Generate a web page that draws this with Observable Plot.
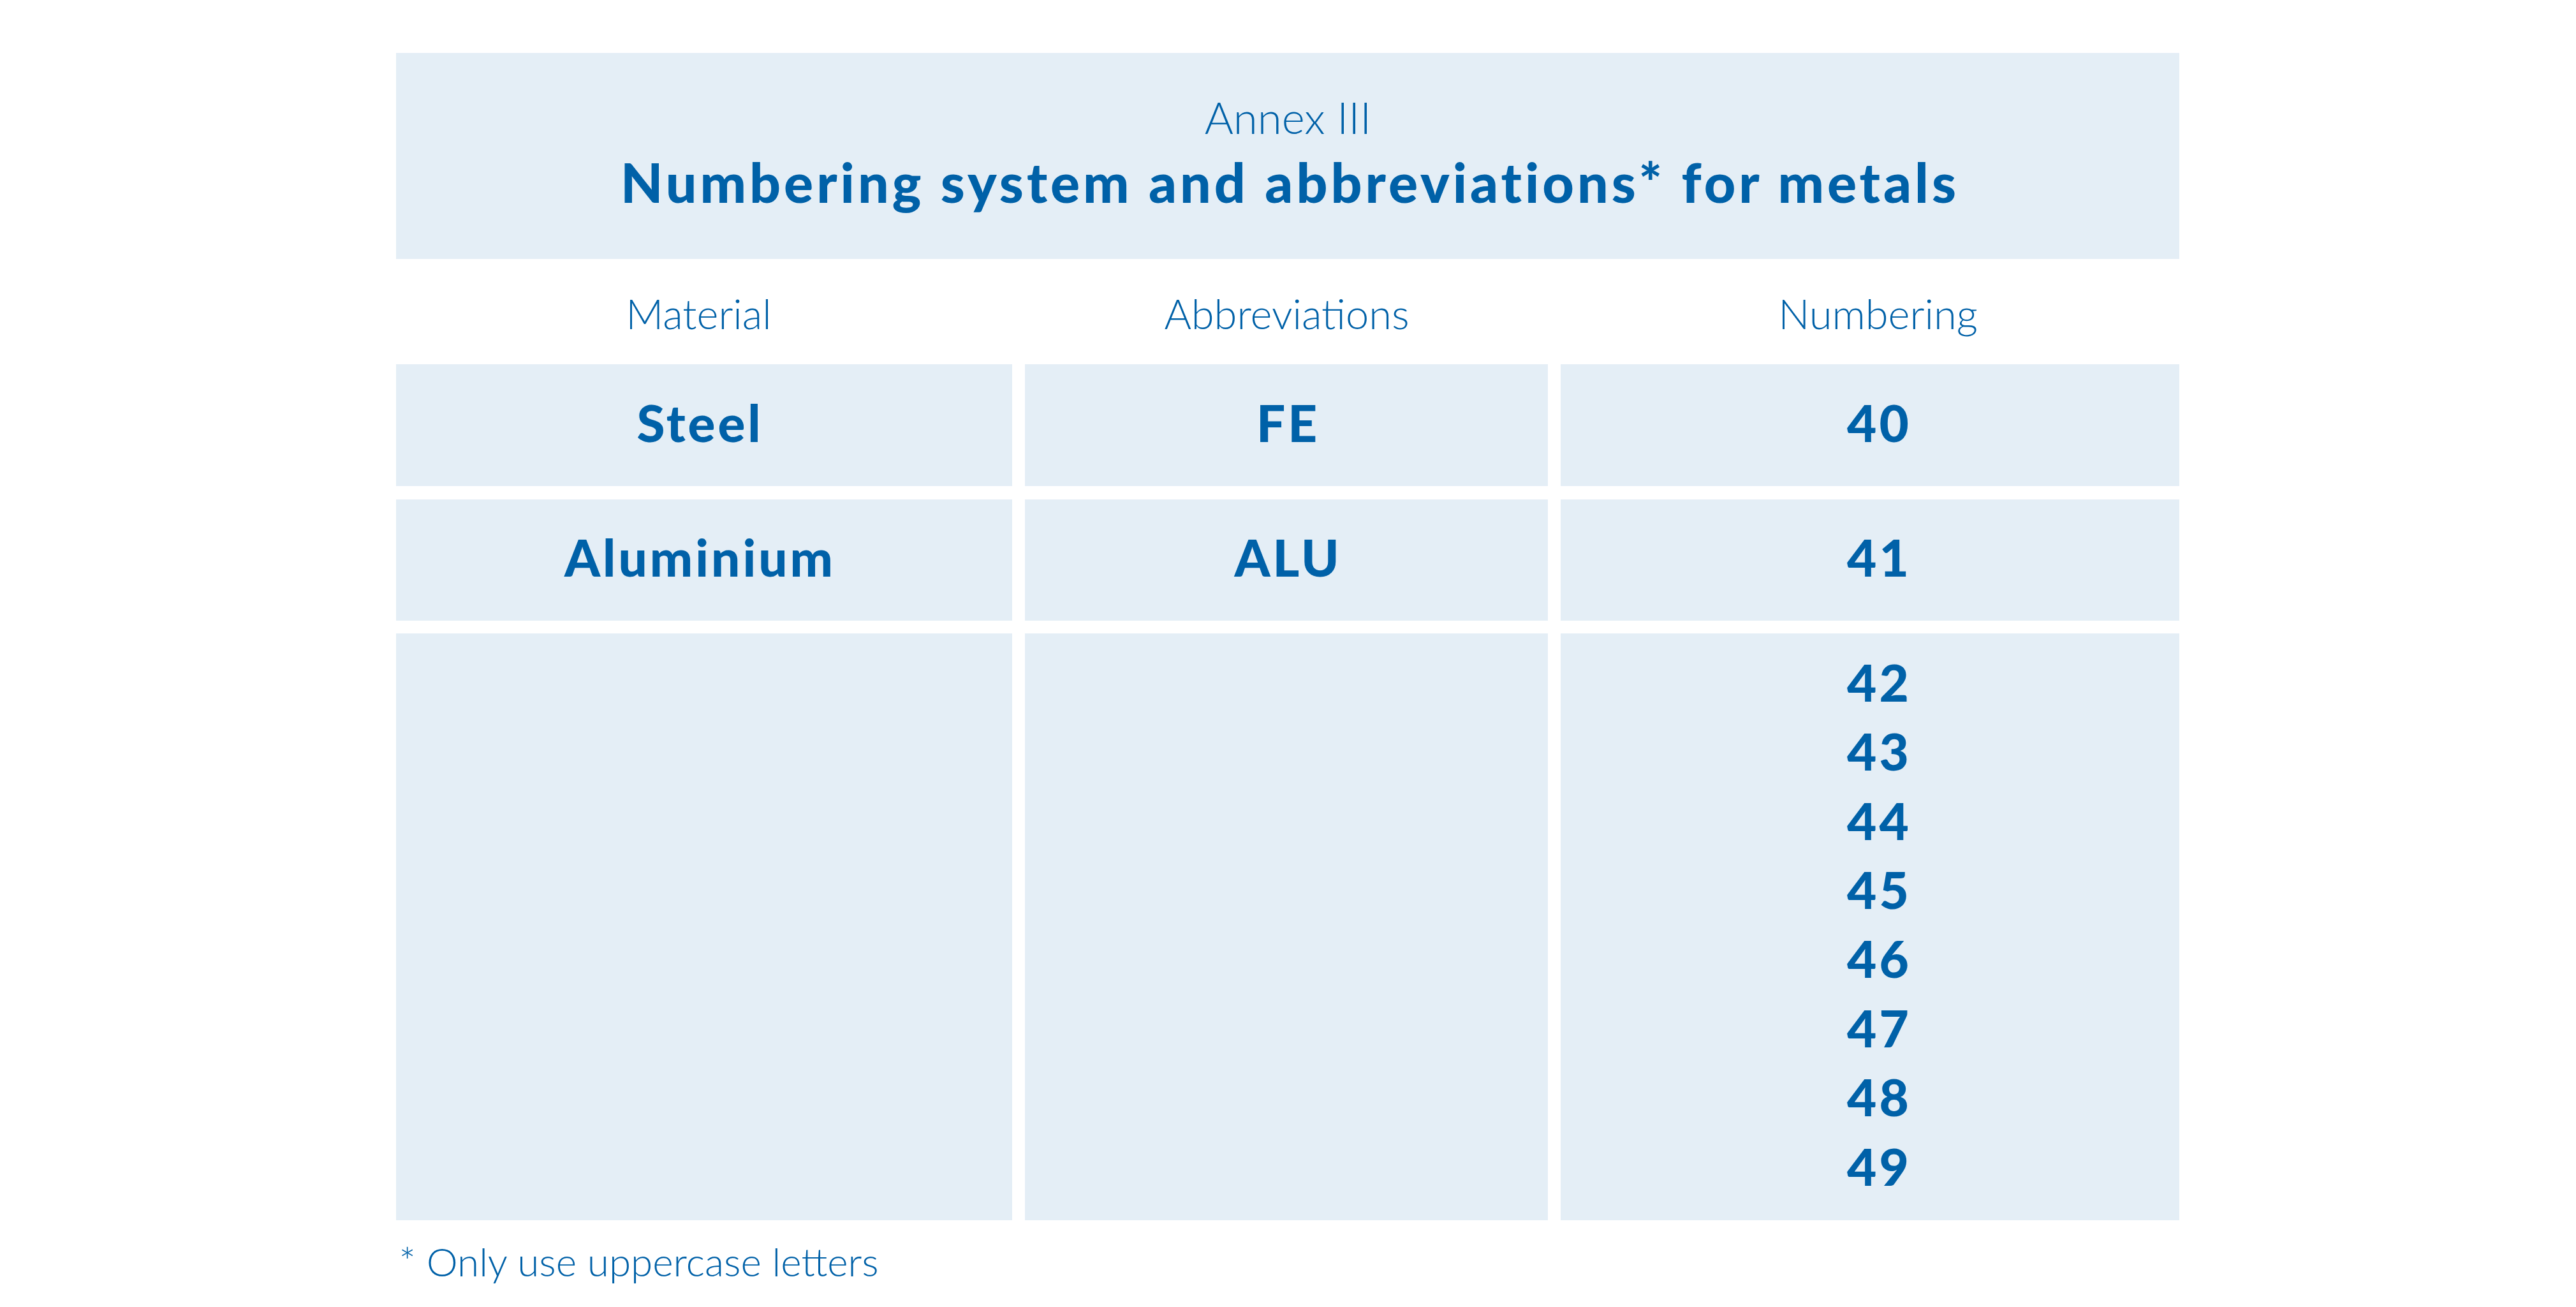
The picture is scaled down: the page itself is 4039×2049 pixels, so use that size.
<!DOCTYPE html>
<html>
<head>
<meta charset="utf-8">
<script src="https://cdn.jsdelivr.net/npm/d3@7"></script>
<script src="https://cdn.jsdelivr.net/npm/@observablehq/plot@0.6"></script>
<style>
  html, body { margin: 0; padding: 0; background: #ffffff; }
  #chart svg { display: block; }
</style>
</head>
<body>
<div id="chart"></div>
<script>
// ---------- DATA ----------
const annexLabel = "Annex III";
const titleText = "Numbering system and abbreviations* for metals";
const columns = ["Material", "Abbreviations", "Numbering"];
const materials = ["Steel", "Aluminium", ""];
const abbreviations = ["FE", "ALU", ""];
const numbering = [["40"], ["41"], ["42", "43", "44", "45", "46", "47", "48", "49"]];
const footnote = "* Only use uppercase letters";

// ---------- LAYOUT (page geometry, not data) ----------
const W = 4039, H = 2049;
const BLUE = "#0061a8";
const FILL = "#e4eef6";
const BOLD = "Lato";
const LIGHT = "Lato";
const colEdges = [[621, 1587], [1607, 2427], [2447, 3417]];
const textCenters = [1095, 2017, 2944];
const rowEdges = [[571, 762], [783, 973], [993, 1913]];
const headerBox = {x1: 621, x2: 3417, y1: 83, y2: 406};
const annexBaseline = 209;
const titleBaseline = 317;
const columnBaseline = 515;
const footnoteBaseline = 2000;
const lineStep = 108.4;

const rowMid = r => (rowEdges[r][0] + rowEdges[r][1]) / 2;

// build cells from the data arrays
const cells = [];
const cellTexts = [];
const rowValues = materials.map((m, r) => [[m], [abbreviations[r]], numbering[r]]);
rowValues.forEach((vals, r) => {
  vals.forEach((list, c) => {
    cells.push({r, c});
    list.forEach((t, i) => {
      if (t !== "") cellTexts.push({r, c, i, n: list.length, text: t});
    });
  });
});

const chart = Plot.plot({
  width: W,
  height: H,
  margin: 0,
  x: {domain: [0, W], range: [0, W], axis: null},
  y: {domain: [0, H], range: [0, H], axis: null},
  style: {background: "#ffffff"},
  marks: [
    // header band
    Plot.rect([headerBox], {x1: "x1", x2: "x2", y1: "y1", y2: "y2", fill: FILL}),
    Plot.text([annexLabel], {
      x: (headerBox.x1 + headerBox.x2) / 2, y: annexBaseline, text: d => d,
      lineAnchor: "bottom", fill: BLUE, fontFamily: LIGHT, fontWeight: 300, fontSize: 69
    }),
    Plot.text([titleText], {
      x: (headerBox.x1 + headerBox.x2) / 2 + 3, y: titleBaseline, text: d => d,
      lineAnchor: "bottom", fill: BLUE, fontFamily: BOLD, fontWeight: 900, fontSize: 86
    }),
    // column headers
    Plot.text(columns, {
      x: (d, i) => textCenters[i], y: columnBaseline, text: d => d,
      lineAnchor: "bottom", fill: BLUE, fontFamily: LIGHT, fontWeight: 300, fontSize: 65
    }),
    // cells
    Plot.rect(cells, {
      x1: d => colEdges[d.c][0], x2: d => colEdges[d.c][1],
      y1: d => rowEdges[d.r][0], y2: d => rowEdges[d.r][1],
      fill: FILL
    }),
    Plot.text(cellTexts, {
      x: d => textCenters[d.c] + 2,
      y: d => rowMid(d.r) + (d.i - (d.n - 1) / 2) * lineStep,
      text: "text", lineAnchor: "middle",
      fill: BLUE, fontFamily: BOLD, fontWeight: 900, fontSize: 80
    }),
    // footnote
    Plot.text([footnote], {
      x: colEdges[0][0] + 4, y: footnoteBaseline, text: d => d,
      textAnchor: "start", lineAnchor: "bottom",
      fill: BLUE, fontFamily: LIGHT, fontWeight: 300, fontSize: 62
    })
  ]
});

// widen the bold lettering a little (reference typeface is broader than Lato)
const cellStrings = new Set(cellTexts.map(d => d.text));
d3.select(chart).selectAll("text").each(function() {
  const t = this.textContent;
  if (t === titleText) this.setAttribute("letter-spacing", "5");
  else if (cellStrings.has(t)) this.setAttribute("letter-spacing", "4");
});

document.getElementById("chart").appendChild(chart);
</script>
</body>
</html>
